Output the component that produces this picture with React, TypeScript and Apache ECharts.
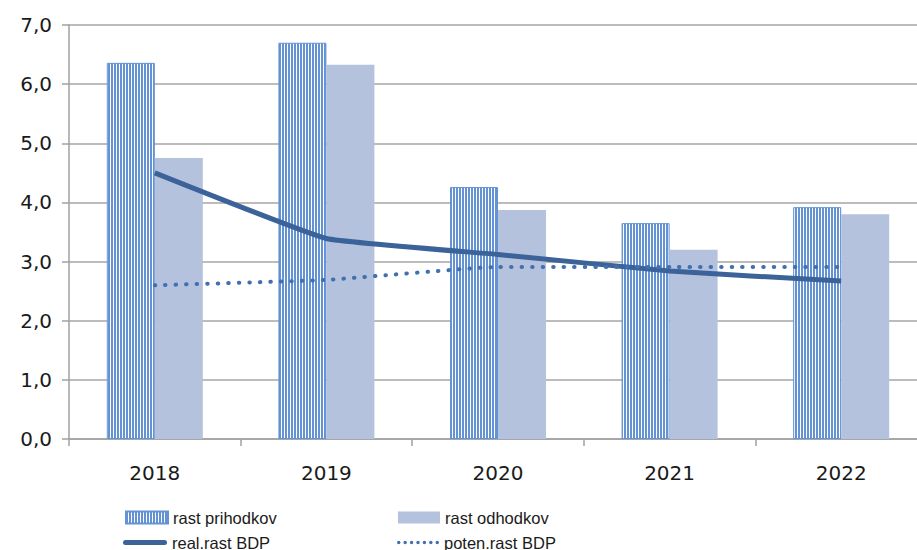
import React, { useEffect, useRef } from "react";
import * as echarts from "echarts";

const years = ["2018", "2019", "2020", "2021", "2022"];
const rastPrihodkov = [6.36, 6.7, 4.26, 3.65, 3.92];
const rastOdhodkov = [4.75, 6.33, 3.87, 3.2, 3.8];
const realRastBDP = [4.5, 3.39, 3.12, 2.84, 2.67];
const potenRastBDP = [2.6, 2.69, 2.91, 2.91, 2.91];

const AXIS_FONT = "'DejaVu Sans', sans-serif";
const LEGEND_FONT = "'Liberation Sans', sans-serif";

function dotsPath(): string {
  let d = "";
  const r = 1.7;
  for (let i = 0; i < 7; i++) {
    const cx = 2 + i * 6.3;
    d += `M${cx - r},2a${r},${r} 0 1,0 ${2 * r},0a${r},${r} 0 1,0 ${-2 * r},0Z`;
  }
  return "path://" + d;
}

export default function App() {
  const ref = useRef<HTMLDivElement>(null);
  useEffect(() => {
    if (!ref.current) return;
    const chart = echarts.init(ref.current, undefined, { renderer: "svg" });

    const cv = document.createElement("canvas");
    cv.width = 3;
    cv.height = 4;
    const ctx = cv.getContext("2d")!;
    ctx.fillStyle = "#ffffff";
    ctx.fillRect(0, 0, 3, 4);
    ctx.fillStyle = "#6393d4";
    ctx.fillRect(0, 0, 2, 4);

    const legendBase = {
      orient: "horizontal" as const,
      padding: 0,
      itemWidth: 42,
      itemHeight: 12,
      textStyle: { fontFamily: LEGEND_FONT, fontSize: 16.5, color: "#1a1a1a" },
    };

    chart.setOption({
      animation: false,
      backgroundColor: "#ffffff",
      grid: { left: 69, top: 25, width: 858, height: 414 },
      xAxis: {
        type: "category",
        data: years,
        boundaryGap: true,
        axisLine: { show: true, lineStyle: { color: "#a0a0a0", width: 1.5 } },
        axisTick: { show: true, length: 7, lineStyle: { color: "#a0a0a0", width: 1.5 } },
        axisLabel: { margin: 24, fontFamily: AXIS_FONT, fontSize: 20, color: "#1a1a1a" },
        splitLine: { show: false },
      },
      yAxis: {
        type: "value",
        min: 0,
        max: 7,
        interval: 1,
        axisLine: { show: true, lineStyle: { color: "#a0a0a0", width: 1.5 } },
        axisTick: { show: true, length: 7, lineStyle: { color: "#a0a0a0", width: 1.5 } },
        axisLabel: {
          margin: 17,
          fontFamily: AXIS_FONT,
          fontSize: 20,
          color: "#1a1a1a",
          formatter: (v: number) => v.toFixed(1).replace(".", ","),
        },
        splitLine: { show: true, lineStyle: { color: "#a6a6a6", width: 1.5 } },
      },
      legend: [
        { ...legendBase, left: 125, top: 509, data: [{ name: "rast prihodkov", icon: "rect" }] },
        { ...legendBase, left: 398, top: 509, data: [{ name: "rast odhodkov", icon: "rect" }] },
        {
          ...legendBase,
          left: 123,
          top: 534,
          itemWidth: 44,
          itemHeight: 5,
          data: [{ name: "real.rast BDP", icon: "path://M2.5,0H41.5A2.5,2.5 0 0,1 41.5,5H2.5A2.5,2.5 0 0,1 2.5,0Z" }],
        },
        {
          ...legendBase,
          left: 397,
          top: 534,
          itemWidth: 42,
          itemHeight: 4,
          data: [{ name: "poten.rast BDP", icon: dotsPath() }],
        },
      ],
      series: [
        {
          name: "rast prihodkov",
          type: "bar",
          data: rastPrihodkov,
          barWidth: 48,
          barGap: "0%",
          itemStyle: {
            color: { image: cv, repeat: "repeat" },
            borderColor: "#6393d4",
            borderWidth: 1,
          },
        },
        {
          name: "rast odhodkov",
          type: "bar",
          data: rastOdhodkov,
          barWidth: 48,
          barGap: "0%",
          itemStyle: { color: "#b4c2de" },
        },
        {
          name: "real.rast BDP",
          type: "line",
          data: realRastBDP,
          symbol: "none",
          smooth: 0.1,
          lineStyle: { color: "#3b6399", width: 5 },
          itemStyle: { color: "#3b6399" },
          z: 5,
        },
        {
          name: "poten.rast BDP",
          type: "line",
          data: potenRastBDP,
          symbol: "none",
          smooth: 0.1,
          lineStyle: { color: "#4170af", width: 4, type: [0.5, 10], cap: "round" },
          itemStyle: { color: "#4170af" },
          z: 5,
        },
      ],
    });
    return () => chart.dispose();
  }, []);
  return (
    <div
      style={{ position: "fixed", left: 0, top: 0, width: 917, height: 550, overflow: "hidden", background: "#fff" }}
    >
      <div ref={ref} style={{ width: 930, height: 550 }} />
    </div>
  );
}
